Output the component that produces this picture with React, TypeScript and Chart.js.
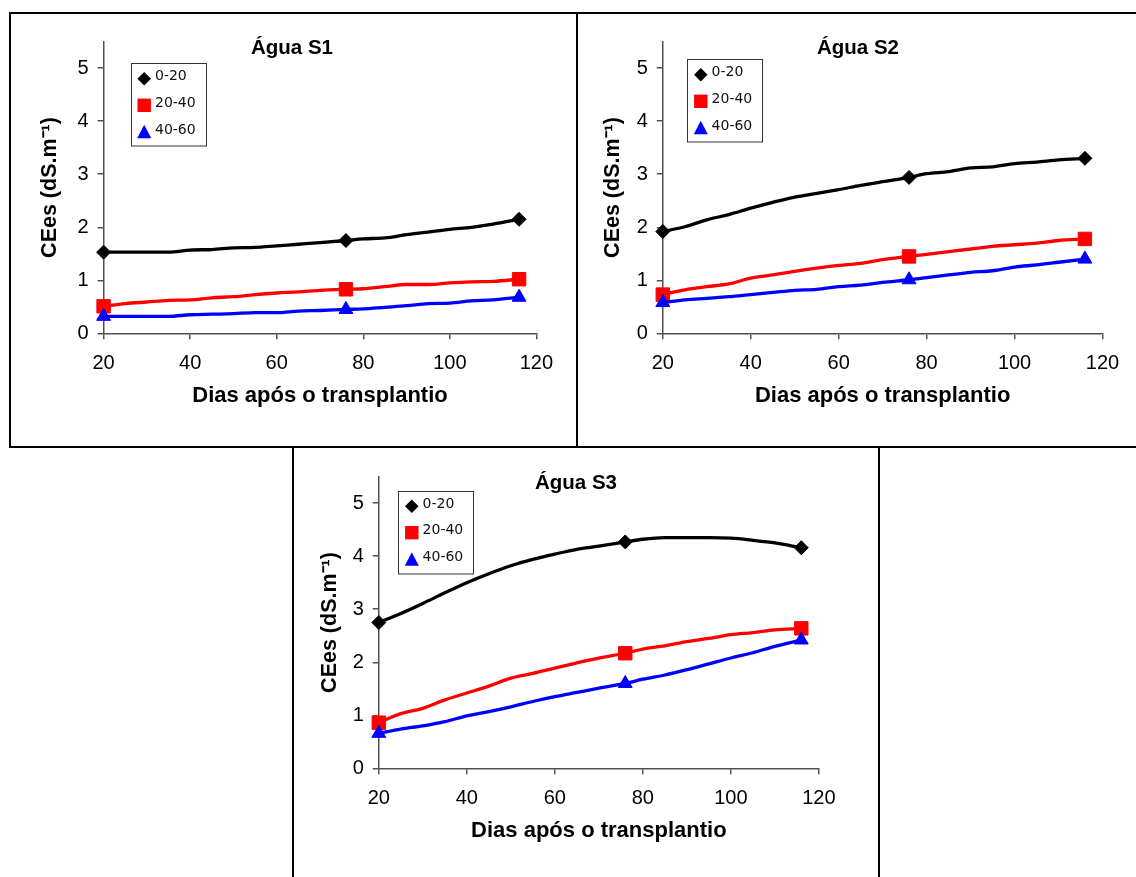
import React, { useEffect, useRef } from "react";
import { Chart, registerables } from "chart.js";

Chart.register(...registerables);

// ---------- data ----------
const DAYS = [20, 25, 30, 35, 40, 45, 50, 55, 60, 65, 70, 76, 80, 85, 90, 95, 100, 105, 110, 116];
const MARKER_DAYS = [20, 76, 116];
const LAYER_LABELS = ["0-20", "20-40", "40-60"];
const X_TICKS = [20, 40, 60, 80, 100, 120];
const Y_TICKS = [0, 1, 2, 3, 4, 5];
const PANEL_TITLES = ["Água S1", "Água S2", "Água S3"];
const X_TITLE = "Dias após o transplantio";
const Y_TITLE = "CEes (dS.m⁻¹)";

const S1_0_20 = [1.53, 1.53, 1.53, 1.53, 1.57, 1.58, 1.61, 1.62, 1.65, 1.68, 1.71, 1.75, 1.78, 1.8, 1.86, 1.91, 1.96, 2.0, 2.06, 2.15];
const S1_20_40 = [0.51, 0.56, 0.59, 0.62, 0.63, 0.67, 0.69, 0.73, 0.76, 0.78, 0.81, 0.83, 0.84, 0.88, 0.92, 0.92, 0.95, 0.97, 0.98, 1.02];
const S1_40_60 = [0.32, 0.32, 0.32, 0.32, 0.35, 0.36, 0.37, 0.39, 0.39, 0.42, 0.43, 0.45, 0.46, 0.49, 0.52, 0.56, 0.57, 0.61, 0.63, 0.68];

const S2_0_20 = [1.92, 2.01, 2.14, 2.24, 2.36, 2.47, 2.57, 2.64, 2.71, 2.79, 2.86, 2.94, 3.01, 3.05, 3.12, 3.14, 3.2, 3.23, 3.27, 3.3];
const S2_20_40 = [0.73, 0.82, 0.88, 0.93, 1.04, 1.1, 1.17, 1.23, 1.28, 1.32, 1.39, 1.45, 1.49, 1.54, 1.59, 1.64, 1.67, 1.7, 1.75, 1.78];
const S2_40_60 = [0.58, 0.63, 0.66, 0.69, 0.73, 0.77, 0.81, 0.83, 0.88, 0.91, 0.96, 1.01, 1.05, 1.1, 1.15, 1.18, 1.25, 1.29, 1.34, 1.4];

const S3_0_20 = [2.75, 2.92, 3.11, 3.31, 3.5, 3.67, 3.82, 3.94, 4.04, 4.13, 4.19, 4.27, 4.32, 4.35, 4.35, 4.35, 4.34, 4.3, 4.25, 4.16];
const S3_20_40 = [0.86, 1.03, 1.13, 1.29, 1.42, 1.55, 1.7, 1.79, 1.89, 1.99, 2.08, 2.17, 2.25, 2.31, 2.39, 2.45, 2.52, 2.56, 2.61, 2.64];
const S3_40_60 = [0.66, 0.74, 0.8, 0.88, 0.99, 1.07, 1.16, 1.26, 1.35, 1.43, 1.51, 1.6, 1.68, 1.76, 1.86, 1.97, 2.08, 2.18, 2.3, 2.42];

const PANEL_VALUES = [
  [S1_0_20, S1_20_40, S1_40_60],
  [S2_0_20, S2_20_40, S2_40_60],
  [S3_0_20, S3_20_40, S3_40_60],
];

// ---------- styles ----------
const COLORS = ["#000000", "#ff0000", "#0000ff"];
const POINT_STYLES = ["rectRot", "rect", "triangle"];
const POINT_RADII = [7, 9.5, 8];
const AXIS_COLOR = "#505050";
const SANS = '"Liberation Sans", Arial, sans-serif';

type Layout = {
  left: number; top: number; width: number; height: number;
  padRight: number; padTop: number; padBottom: number;
  xHeight: number; yWidth: number; yTitlePad: number;
  titleX: number; titleY: number; legendX: number; legendY: number;
};

const LAYOUTS: Layout[] = [
  { left: 11, top: 14, width: 565, height: 432, padRight: 39.6, padTop: 27.7, padBottom: 37.3, xHeight: 75.4, yWidth: 92.6, yTitlePad: 26, titleX: 281, titleY: 34.3, legendX: 119.7, legendY: 49.3 },
  { left: 578, top: 14, width: 558, height: 432, padRight: 33.5, padTop: 27.7, padBottom: 37.3, xHeight: 75.4, yWidth: 84.8, yTitlePad: 21.8, titleX: 280, titleY: 34.3, legendX: 109.3, legendY: 45.3 },
  { left: 294, top: 448, width: 584, height: 429, padRight: 59.1, padTop: 28.7, padBottom: 33.3, xHeight: 75.4, yWidth: 84.8, yTitlePad: 23, titleX: 282, titleY: 35.3, legendX: 104.3, legendY: 42.7 },
];

function drawMarker(ctx: CanvasRenderingContext2D, style: string, x: number, y: number) {
  ctx.beginPath();
  if (style === "rectRot") {
    const r = 6.8;
    ctx.moveTo(x - r, y); ctx.lineTo(x, y - r); ctx.lineTo(x + r, y); ctx.lineTo(x, y + r);
  } else if (style === "rect") {
    const h = 6.7;
    ctx.rect(x - h, y - h, 2 * h, 2 * h);
  } else {
    ctx.moveTo(x, y - 7.5); ctx.lineTo(x + 7, y + 6); ctx.lineTo(x - 7, y + 6);
  }
  ctx.closePath();
  ctx.fill();
}

const decorPlugin = {
  id: "panelDecor",
  afterDraw(chart: any, _args: any, opts: any) {
    const ctx: CanvasRenderingContext2D = chart.ctx;
    ctx.save();
    // panel title
    ctx.font = `bold 20.5px ${SANS}`;
    ctx.fillStyle = "#000";
    ctx.textAlign = "center";
    ctx.textBaseline = "middle";
    ctx.fillText(opts.title, opts.titleX, opts.titleY);
    // legend box
    const bx = opts.legendX, by = opts.legendY, bw = 75, bh = 82.5;
    ctx.fillStyle = "#fff";
    ctx.fillRect(bx, by, bw, bh);
    ctx.strokeStyle = "#333";
    ctx.lineWidth = 1;
    ctx.strokeRect(Math.round(bx) + 0.5, Math.round(by) + 0.5, bw, bh);
    const rows = [15.5, 42, 69];
    chart.data.datasets.forEach((ds: any, i: number) => {
      ctx.fillStyle = ds.borderColor;
      drawMarker(ctx, ds.pointStyle, bx + 13.5, by + rows[i]);
      ctx.fillStyle = "#111";
      ctx.font = '14px "DejaVu Sans", Verdana, sans-serif';
      ctx.textAlign = "left";
      ctx.textBaseline = "middle";
      ctx.fillText(ds.label, bx + 24.3, by + rows[i] - 2.3);
    });
    ctx.restore();
  },
};

function Panel({ index }: { index: number }) {
  const ref = useRef<HTMLCanvasElement | null>(null);
  const L = LAYOUTS[index];
  useEffect(() => {
    if (!ref.current) return;
    const values = PANEL_VALUES[index];
    const datasets = LAYER_LABELS.map((label, i) => ({
      label,
      data: DAYS.map((d, j) => ({ x: d, y: values[i][j] })),
      borderColor: COLORS[i],
      backgroundColor: COLORS[i],
      borderWidth: 3.3,
      pointStyle: POINT_STYLES[i],
      pointRadius: DAYS.map((d) => (MARKER_DAYS.includes(d) ? POINT_RADII[i] : 0)),
      pointHoverRadius: DAYS.map((d) => (MARKER_DAYS.includes(d) ? POINT_RADII[i] : 0)),
      pointBorderWidth: 1,
      pointBorderColor: COLORS[i],
      pointBackgroundColor: COLORS[i],
      cubicInterpolationMode: "monotone",
      clip: false,
      order: 2 - i,
    }));
    const tickFont = { family: SANS, size: 20 };
    const chart = new Chart(ref.current, {
      type: "line",
      data: { datasets } as any,
      plugins: [decorPlugin],
      options: {
        responsive: false,
        animation: false,
        events: [],
        layout: { padding: { left: 0, right: L.padRight, top: L.padTop, bottom: L.padBottom } },
        plugins: {
          legend: { display: false },
          title: { display: false },
          tooltip: { enabled: false },
          panelDecor: {
            title: PANEL_TITLES[index],
            titleX: L.titleX, titleY: L.titleY,
            legendX: L.legendX, legendY: L.legendY,
          },
        } as any,
        scales: {
          x: {
            type: "linear",
            min: X_TICKS[0],
            max: X_TICKS[X_TICKS.length - 1],
            afterBuildTicks: (s: any) => { s.ticks = X_TICKS.map((v) => ({ value: v })); },
            afterFit: (s: any) => { s.height = L.xHeight; },
            ticks: { font: tickFont, color: "#000", padding: 12, maxRotation: 0, autoSkip: false },
            grid: { drawOnChartArea: false, drawTicks: true, tickLength: 6, color: AXIS_COLOR, lineWidth: 1.5 },
            border: { display: true, color: AXIS_COLOR, width: 1.5 },
            title: {
              display: true, text: X_TITLE, color: "#000",
              font: { family: SANS, size: 22, weight: "bold" },
              padding: { top: 0, bottom: 0 },
            },
          },
          y: {
            type: "linear",
            min: 0,
            max: 5.5,
            afterBuildTicks: (s: any) => { s.ticks = Y_TICKS.map((v) => ({ value: v })); },
            afterFit: (s: any) => { s.width = L.yWidth; },
            ticks: { font: tickFont, color: "#000", padding: 9, includeBounds: false },
            grid: { drawOnChartArea: false, drawTicks: true, tickLength: 6, color: AXIS_COLOR, lineWidth: 1.5 },
            border: { display: true, color: AXIS_COLOR, width: 1.5 },
            title: {
              display: true, text: Y_TITLE, color: "#000",
              font: { family: SANS, size: 21.5, weight: "bold" },
              padding: { top: L.yTitlePad, bottom: 0 },
            },
          },
        },
      } as any,
    });
    return () => chart.destroy();
  }, [index]);
  return (
    <canvas
      ref={ref}
      width={L.width}
      height={L.height}
      style={{ position: "absolute", left: L.left, top: L.top, width: L.width, height: L.height }}
    />
  );
}

export default function App() {
  const border = "2px solid #000";
  return (
    <div style={{ position: "fixed", left: 0, top: 0, width: 1136, height: 877, overflow: "hidden", background: "#fff" }}>
      <div style={{ position: "absolute", left: 9, top: 12, width: 569, height: 436, border, boxSizing: "border-box" }} />
      <div style={{ position: "absolute", left: 576, top: 12, width: 600, height: 436, border, boxSizing: "border-box" }} />
      <div style={{ position: "absolute", left: 292, top: 446, width: 588, height: 500, border, boxSizing: "border-box" }} />
      <Panel index={0} />
      <Panel index={1} />
      <Panel index={2} />
    </div>
  );
}
